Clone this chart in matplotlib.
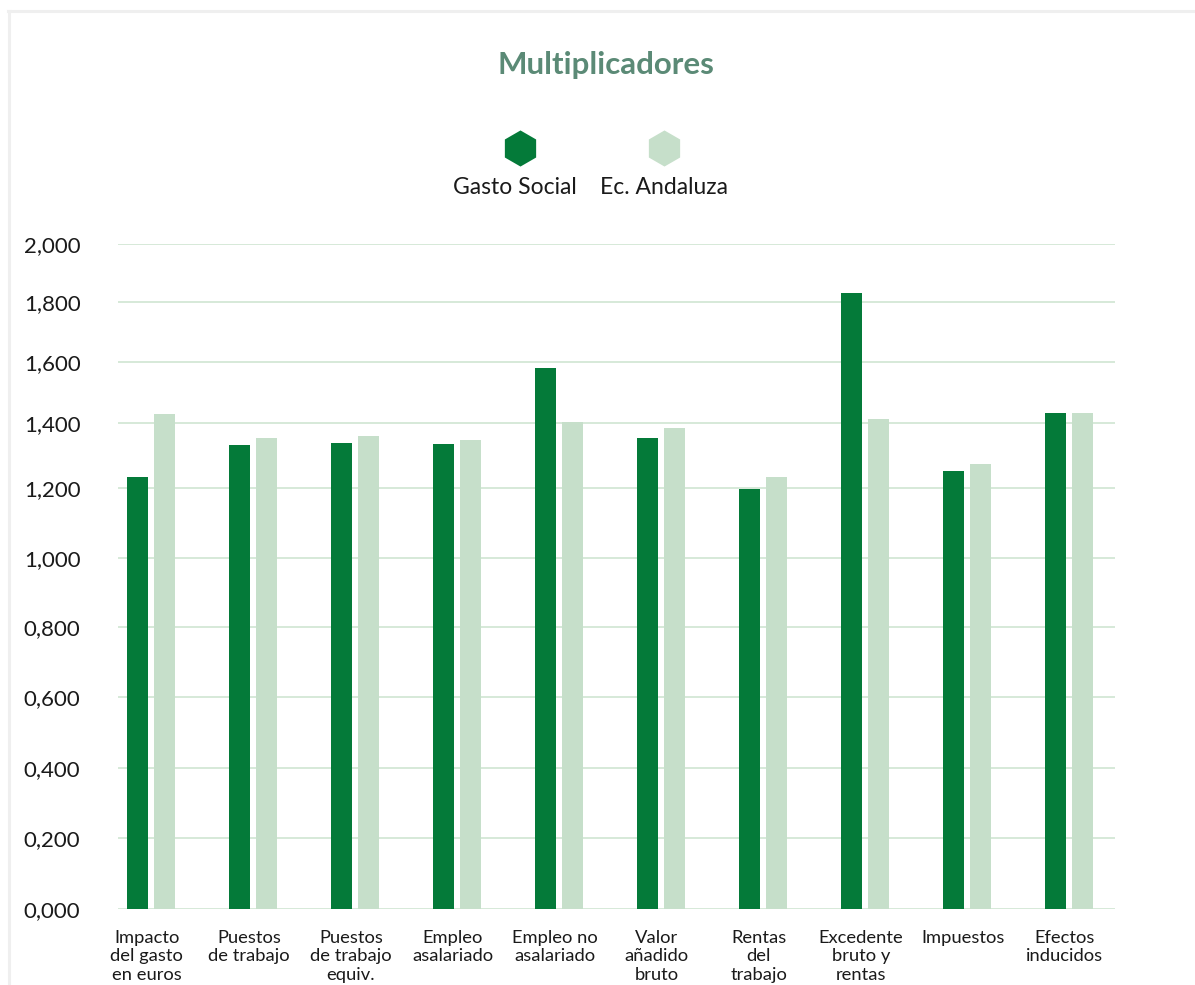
import numpy as np
import matplotlib
matplotlib.use("Agg")
import matplotlib.pyplot as plt
from matplotlib.lines import Line2D

plt.rcParams['font.family'] = ['Lato', 'DejaVu Sans']

categories = [
    "Impacto\ndel gasto\nen euros",
    "Puestos\nde trabajo",
    "Puestos\nde trabajo\nequiv.",
    "Empleo\nasalariado",
    "Empleo no\nasalariado",
    "Valor\nañadido\nbruto",
    "Rentas\ndel\ntrabajo",
    "Excedente\nbruto y\nrentas",
    "Impuestos",
    "Efectos\ninducidos",
]
gasto_social = [1.235, 1.333, 1.339, 1.336, 1.581, 1.354, 1.198, 1.832, 1.253, 1.433]
ec_andaluza = [1.430, 1.354, 1.360, 1.348, 1.403, 1.385, 1.235, 1.413, 1.274, 1.433]
series_names = ["Gasto Social", "Ec. Andaluza"]
y_ticks = [0.0, 0.2, 0.4, 0.6, 0.8, 1.0, 1.2, 1.4, 1.6, 1.8, 2.0]
y_tick_labels = [f"{v:.3f}".replace(".", ",") for v in y_ticks]
title = "Multiplicadores"

DARK = "#047a39"
LIGHT = "#c6dfca"
GRID = "#cfe5d2"
TITLE_C = "#5b8a76"

# Non-uniform axis spacing of the original chart (pixel rows of the gridlines)
grid_rows = np.array([909, 838.3, 767.7, 697.3, 627, 557.7, 488.3, 423, 362.3, 302.3, 244.3])
grid_frac = (grid_rows[0] - grid_rows) / (grid_rows[0] - grid_rows[-1])
tick_arr = np.array(y_ticks)

def fwd(v):
    return np.interp(v, tick_arr, grid_frac)

def inv(p):
    return np.interp(p, grid_frac, tick_arr)

W, H = 1195, 985
fig = plt.figure(figsize=(W / 100, H / 100), dpi=100)
ax = fig.add_axes([118 / W, (H - 909) / H, 997 / W, (909 - 244.3) / H])
ax.set_yscale("function", functions=(fwd, inv))

x = np.arange(len(categories))
bw = 0.206
off = 0.132
ax.bar(x - off, gasto_social, width=bw, color=DARK, zorder=3)
ax.bar(x + off, ec_andaluza, width=bw, color=LIGHT, zorder=3)

ax.set_xlim(-0.3235, 9.451)
ax.set_ylim(0, 2.0)
ax.set_yticks(y_ticks)
ax.set_yticklabels(y_tick_labels, fontsize=16, color="#1a1a1a")
ax.set_xticks(x - 0.04)
ax.set_xticklabels(categories, fontsize=13.2, color="#1a1a1a", linespacing=1.18, va="top")
ax.tick_params(axis="both", length=0)
ax.tick_params(axis="y", pad=27)
ax.tick_params(axis="x", pad=15)
for s in ax.spines.values():
    s.set_visible(False)
ax.yaxis.grid(True, color=GRID, linewidth=1.2, zorder=0)
ax.set_axisbelow(True)

# Title
fig.text(606 / W, 1 - 65 / H, title, ha="center", va="center",
         fontsize=22.5, fontweight="bold", color=TITLE_C)

# Legend (markers above labels)
for name, col, mx, tx in [(series_names[0], DARK, 520, 515), (series_names[1], LIGHT, 664, 664)]:
    fig.add_artist(Line2D([mx / W], [1 - 148 / H], marker="h", markersize=26,
                          color=col, markeredgewidth=0, linestyle="none",
                          transform=fig.transFigure))
    fig.text(tx / W, 1 - 187 / H, name, ha="center", va="center",
             fontsize=16.5, color="#1a1a1a")

# Card border
fig.add_artist(Line2D([8 / W, 1.0], [1 - 11 / H, 1 - 11 / H], color="#efefef",
                      linewidth=2.2, transform=fig.transFigure))
fig.add_artist(Line2D([9 / W, 9 / W], [0, 1 - 11 / H], color="#efefef",
                      linewidth=2.2, transform=fig.transFigure))

fig.savefig("out.png", dpi=100)
